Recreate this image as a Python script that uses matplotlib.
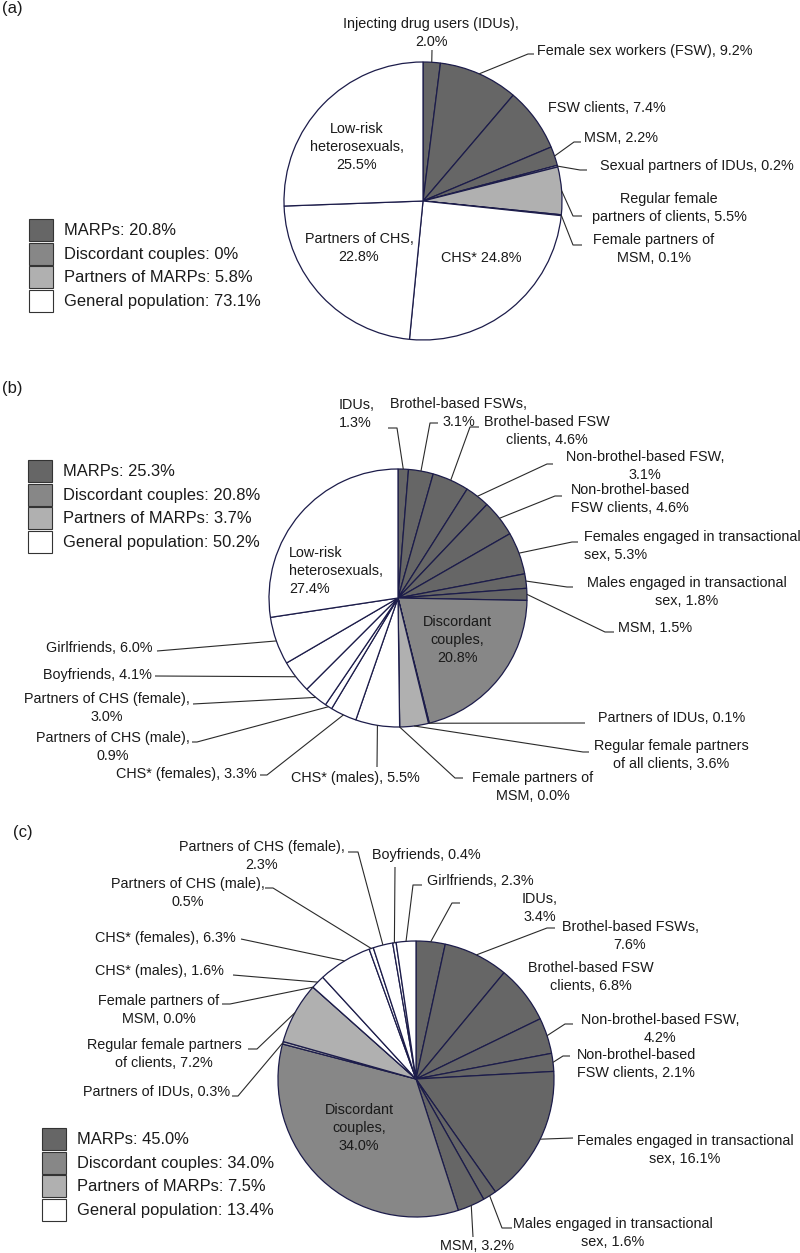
import matplotlib
matplotlib.use('Agg')
import matplotlib.pyplot as plt
from matplotlib.patches import Rectangle
import numpy as np

plt.rcParams['font.family'] = ['Liberation Sans', 'DejaVu Sans']

W, H = 800, 1253

# ---------------- data ----------------
group_colors = ['#666666', '#878787', '#b0b0b0', '#ffffff']

a_names = ["Injecting drug users (IDUs),\n", "Female sex workers (FSW), ", "FSW clients, ",
           "MSM, ", "Sexual partners of IDUs, ", "Regular female\npartners of clients, ",
           "Female partners of\nMSM, ", "CHS* ", "Partners of CHS,\n", "Low-risk\nheterosexuals,\n"]
a_values = [2.0, 9.2, 7.4, 2.2, 0.2, 5.5, 0.1, 24.8, 22.8, 25.5]
a_groups = [0, 0, 0, 0, 2, 2, 2, 3, 3, 3]
a_legend = ["MARPs: 20.8%", "Discordant couples: 0%", "Partners of MARPs: 5.8%",
            "General population: 73.1%"]

b_names = ["IDUs,\n", "Brothel-based FSWs,\n", "Brothel-based FSW\nclients, ",
           "Non-brothel-based FSW,\n", "Non-brothel-based\nFSW clients, ",
           "Females engaged in transactional\nsex, ", "Males engaged in transactional\nsex, ",
           "MSM, ", "Discordant\ncouples,\n", "Partners of IDUs, ",
           "Regular female partners\nof all clients, ", "Female partners of\nMSM, ",
           "CHS* (males), ", "CHS* (females), ", "Partners of CHS (male),\n",
           "Partners of CHS (female),\n", "Boyfriends, ", "Girlfriends, ",
           "Low-risk\nheterosexuals,\n"]
b_values = [1.3, 3.1, 4.6, 3.1, 4.6, 5.3, 1.8, 1.5, 20.8, 0.1, 3.6, 0.0,
            5.5, 3.3, 0.9, 3.0, 4.1, 6.0, 27.4]
b_groups = [0, 0, 0, 0, 0, 0, 0, 0, 1, 2, 2, 2, 3, 3, 3, 3, 3, 3, 3]
b_legend = ["MARPs: 25.3%", "Discordant couples: 20.8%", "Partners of MARPs: 3.7%",
            "General population: 50.2%"]

c_names = ["IDUs,\n", "Brothel-based FSWs,\n", "Brothel-based FSW\nclients, ",
           "Non-brothel-based FSW,\n", "Non-brothel-based\nFSW clients, ",
           "Females engaged in transactional\nsex, ", "Males engaged in transactional\nsex, ",
           "MSM, ", "Discordant\ncouples,\n", "Partners of IDUs, ",
           "Regular female partners\nof clients, ", "Female partners of\nMSM, ",
           "CHS* (males), ", "CHS* (females), ", "Partners of CHS (male),\n",
           "Partners of CHS (female),\n", "Boyfriends, ", "Girlfriends, "]
c_values = [3.4, 7.6, 6.8, 4.2, 2.1, 16.1, 1.6, 3.2, 34.0, 0.3, 7.2, 0.0,
            1.6, 6.3, 0.5, 2.3, 0.4, 2.3]
c_groups = [0, 0, 0, 0, 0, 0, 0, 0, 1, 2, 2, 2, 3, 3, 3, 3, 3, 3]
c_legend = ["MARPs: 45.0%", "Discordant couples: 34.0%", "Partners of MARPs: 7.5%",
            "General population: 13.4%"]

panel_tags = ["(a)", "(b)", "(c)"]

# ---------------- layout (image pixel coords, y downward) ----------------
a_layout = [
    (431, 33, 'center', [(432, 50)]),
    (537, 51, 'left', [(528, 54), (534, 54)]),
    (607, 108, 'center', []),
    (584, 138, 'left', [(574, 142), (581, 142)]),
    (600, 166, 'left', [(580, 170), (587, 170)]),
    (669, 208, 'center', [(573, 216), (582, 216)]),
    (654, 249, 'center', [(573, 245), (582, 245)]),
    (481, 258, 'center', None),
    (359, 248, 'center', None),
    (357, 147, 'center', None),
]
b_layout = [
    (339, 414, 'left', [(397, 428), (388, 428)]),
    (459, 413, 'center', [(430, 423), (438, 423)]),
    (547, 431, 'center', [(470, 427), (479, 427)]),
    (645, 466, 'center', [(547, 464), (553, 464)]),
    (630, 499, 'center', [(555, 496), (562, 496)]),
    (584, 546, 'left', [(572, 542), (578, 542)]),
    (687, 592, 'center', [(567, 587), (573, 587)]),
    (618, 628, 'left', [(605, 632), (614, 632)]),
    (457, 640, 'center', None),
    (598, 718, 'left', [(585, 723)]),
    (671, 755, 'center', [(583, 752), (589, 752)]),
    (533, 787, 'center', [(455, 778), (463, 778)]),
    (355, 778, 'center', [(377, 767)]),
    (257, 774, 'right', [(267, 775), (260, 775)]),
    (113, 747, 'center', [(197, 742), (192, 742)]),
    (107, 708, 'center', [(193, 704)]),
    (152, 675, 'right', [(155, 676)]),
    (152, 648, 'right', [(157, 651)]),
    (289, 571, 'left', None),
]
c_layout = [
    (540, 908, 'center', [(452, 903), (460, 903)]),
    (630, 936, 'center', [(547, 928), (555, 928)]),
    (591, 977, 'center', []),
    (660, 1029, 'center', [(565, 1024), (573, 1024)]),
    (636, 1064, 'center', [(563, 1056), (570, 1056)]),
    (685, 1150, 'center', [(573, 1138)]),
    (613, 1233, 'center', [(502, 1228), (512, 1228)]),
    (477, 1246, 'center', [(473, 1237)]),
    (359, 1128, 'center', None),
    (230, 1092, 'right', [(238, 1096), (232, 1096)]),
    (164, 1054, 'center', [(257, 1049), (248, 1049)]),
    (159, 1010, 'center', [(230, 1004), (222, 1004)]),
    (224, 971, 'right', [(233, 975)]),
    (236, 938, 'right', [(241, 939)]),
    (188, 893, 'center', [(273, 888), (265, 888)]),
    (262, 856, 'center', [(358, 852), (348, 852)]),
    (372, 855, 'left', [(395, 867)]),
    (427, 881, 'left', [(413, 885), (422, 885)]),
]

pies = [
    dict(names=a_names, values=a_values, groups=a_groups, legend=a_legend, layout=a_layout,
         center=(423, 201), r=139, leg=(29, 219, 64), tag=(2, 8)),
    dict(names=b_names, values=b_values, groups=b_groups, legend=b_legend, layout=b_layout,
         center=(398, 598), r=129, leg=(28, 460, 63), tag=(2, 388)),
    dict(names=c_names, values=c_values, groups=c_groups, legend=c_legend, layout=c_layout,
         center=(416, 1079), r=138, leg=(42, 1128, 77), tag=(13, 833)),
]

EDGE = '#1c1c4a'
LEADER = '#2a2a2a'
TEXT = '#1a1a1a'
LABEL_FS = 10.4
LEG_FS = 11.9
PITCH = 17.6


def Y(y):
    return H - y


fig = plt.figure(figsize=(W / 100, H / 100), dpi=100)
ax = fig.add_axes([0, 0, 1, 1])

for k, p in enumerate(pies):
    cx, cy = p['center']
    r = p['r']
    cols = [group_colors[g] for g in p['groups']]
    wedges, _ = ax.pie(p['values'], colors=cols, startangle=90, counterclock=False,
                       center=(cx, Y(cy)), radius=r,
                       wedgeprops=dict(edgecolor=EDGE, linewidth=0.9))
    for w, name, v, lay in zip(wedges, p['names'], p['values'], p['layout']):
        tx, ty, ha, pts = lay
        lines = (name + f"{v:.1f}%").split('\n')
        n = len(lines)
        for i, ln in enumerate(lines):
            yy = ty + (i - (n - 1) / 2) * PITCH
            ax.text(tx, Y(yy), ln, ha=ha, va='center', fontsize=LABEL_FS,
                    color=TEXT, zorder=5)
        if pts:
            th = np.deg2rad((w.theta1 + w.theta2) / 2)
            ex = cx + r * np.cos(th)
            ey = Y(cy) + r * np.sin(th)
            xs = [ex] + [q[0] for q in pts]
            ys = [ey] + [Y(q[1]) for q in pts]
            ax.plot(xs, ys, color=LEADER, lw=0.8, zorder=4, solid_capstyle='butt')
    # legend
    lx, ltop, ltx = p['leg']
    for i, (txt, col) in enumerate(zip(p['legend'], group_colors)):
        top = ltop + i * 23.6
        ax.add_patch(Rectangle((lx, Y(top + 22)), 24, 22, facecolor=col,
                               edgecolor='#333333', lw=0.8))
        ax.text(ltx, Y(top + 11.5), txt, ha='left', va='center', fontsize=LEG_FS,
                color=TEXT)
    tx, ty = p['tag']
    ax.text(tx, Y(ty), panel_tags[k], ha='left', va='center', fontsize=12, color=TEXT)

ax.set_xlim(0, W)
ax.set_ylim(0, H)
ax.set_aspect('auto')
ax.axis('off')

fig.savefig('out.png', dpi=100, facecolor='white')
